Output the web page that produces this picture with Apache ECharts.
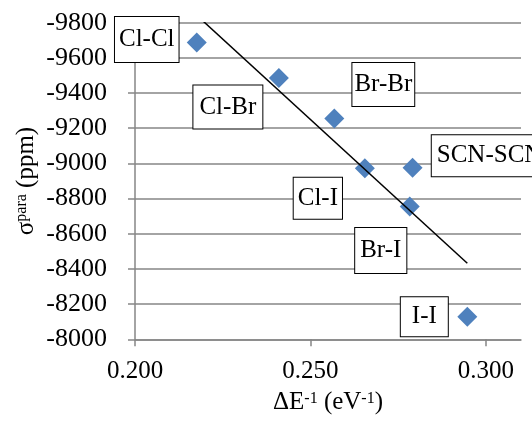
<!DOCTYPE html>
<html>
<head>
<meta charset="utf-8">
<script src="https://cdn.jsdelivr.net/npm/echarts@6/dist/echarts.min.js"></script>
<style>
  html, body { margin: 0; padding: 0; background: #fff; }
  #chart { width: 532px; height: 424px; }
</style>
</head>
<body>
<div id="chart"></div>
<script>
// data
var pairNames = ["Cl-Cl", "Cl-Br", "Br-Br", "Cl-I", "SCN-SCN", "Br-I", "I-I"];
var deltaInv = [0.2176, 0.2410, 0.2568, 0.2655, 0.2791, 0.2783, 0.2947];
var sigmaPara = [-9688, -9485, -9255, -8972, -8975, -8755, -8128];
// linear trendline ends
var trendX = [0.2176, 0.2947];
var trendY = [-9842, -8432];
var xTicks = [0.2, 0.25, 0.3];

// label box placement (offset from point, padding)
var labelOffsets = [[-50, -3], [-51, 29], [49, -34], [-47, 30], [77, -12], [-29, 44], [-43, 0]];
var labelPads = [[10, 4], [9, 6], [9, 2], [8, 4], [8, 5], [10, 5], [7, 11]];

var FONT = "'Liberation Serif', 'Times New Roman', serif";

var scatterData = pairNames.map(function (n, i) {
  return {
    name: n,
    value: [deltaInv[i], sigmaPara[i]],
    label: { offset: labelOffsets[i], padding: labelPads[i] }
  };
});

var chart = echarts.init(document.getElementById("chart"));

var option = {
  animation: false,
  backgroundColor: "#fff",
  grid: {
    left: 135,
    right: 11,
    top: 22.7,
    bottom: 84.7,
    containLabel: false,
    outerBoundsMode: "none"
  },
  xAxis: {
    type: "value",
    min: 0.2,
    max: 0.31,
    interval: 0.05,
    name: "{a|ΔE}{s|-1}{a| (eV}{s|-1}{a|)}",
    nameLocation: "middle",
    nameGap: 51,
    nameMoveOverlap: false,
    nameTextStyle: {
      verticalAlign: "top",
      rich: {
        a: { fontFamily: FONT, fontSize: 25, color: "#000", lineHeight: 25 },
        s: { fontFamily: FONT, fontSize: 16, color: "#000", verticalAlign: "top" }
      }
    },
    axisLine: { show: true, onZero: false, lineStyle: { color: "#868686", width: 1.5 } },
    axisTick: { show: true, length: 7, customValues: xTicks, lineStyle: { color: "#868686", width: 1.5 } },
    axisLabel: {
      customValues: xTicks,
      margin: 20,
      fontFamily: FONT,
      fontSize: 25,
      color: "#000",
      formatter: function (v) { return v.toFixed(3); }
    },
    splitLine: { show: false }
  },
  yAxis: {
    type: "value",
    inverse: true,
    min: -9800,
    max: -8000,
    interval: 200,
    name: "{a|σ}{s|para}{a| (ppm)}",
    nameLocation: "middle",
    nameGap: 96,
    nameMoveOverlap: false,
    nameTextStyle: {
      rich: {
        a: { fontFamily: FONT, fontSize: 25, color: "#000", lineHeight: 25 },
        s: { fontFamily: FONT, fontSize: 16, color: "#000", verticalAlign: "top" }
      }
    },
    axisLine: { show: true, onZero: false, lineStyle: { color: "#868686", width: 1.5 } },
    axisTick: { show: true, length: 7, lineStyle: { color: "#868686", width: 1.5 } },
    axisLabel: {
      margin: 28,
      fontFamily: FONT,
      fontSize: 26,
      color: "#000",
      formatter: function (v) { return String(v); }
    },
    splitLine: { show: true, lineStyle: { color: "#868686", width: 1.5 } }
  },
  series: [
    {
      type: "scatter",
      symbol: "diamond",
      symbolSize: 20,
      itemStyle: { color: "#4F81BD", opacity: 1 },
      data: scatterData,
      label: {
        show: true,
        position: "inside",
        align: "center",
        verticalAlign: "middle",
        formatter: "{b}",
        fontFamily: FONT,
        fontSize: 25,
        lineHeight: 25,
        color: "#000",
        opacity: 1,
        backgroundColor: "#fff",
        borderColor: "#000",
        borderWidth: 1
      },
      emphasis: { disabled: true },
      z: 2
    },
    {
      type: "line",
      symbol: "none",
      clip: true,
      data: trendX.map(function (x, i) { return [x, trendY[i]]; }),
      lineStyle: { color: "#000", width: 1.5 },
      silent: true,
      z: 3
    }
  ]
};

chart.setOption(option);
</script>
</body>
</html>
